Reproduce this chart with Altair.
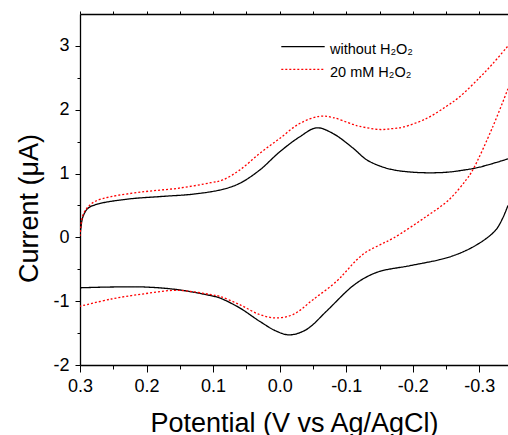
import altair as alt
import pandas as pd

FONT = "Liberation Sans"

series_names = ["without H₂O₂", "20 mM H₂O₂"]
series_colors = ["#000000", "#ff0000"]
series_dash = [[1, 0], [2, 2]]

# without H2O2 : anodic (upper) branch
black_fwd_x = [0.300, 0.299, 0.2955, 0.288, 0.273, 0.228, 0.1785, 0.1275, 0.0855, 0.06, 0.03, 0.0,
               -0.03, -0.0555, -0.08, -0.11, -0.13, -0.15, -0.17, -0.19, -0.22, -0.25, -0.27, -0.30, -0.343]
black_fwd_y = [0.02, 0.12, 0.325, 0.456, 0.523, 0.60, 0.64, 0.68, 0.753, 0.847, 1.055, 1.34,
               1.575, 1.716, 1.628, 1.40, 1.22, 1.12, 1.06, 1.03, 1.012, 1.02, 1.044, 1.10, 1.23]
# without H2O2 : cathodic (lower) branch
black_rev_x = [-0.343, -0.335, -0.325, -0.31, -0.285, -0.26, -0.24, -0.195, -0.15, -0.127, -0.11, -0.098,
               -0.07, -0.04, -0.015, 0.005, 0.03, 0.06, 0.09, 0.103, 0.153, 0.203, 0.253, 0.300]
black_rev_y = [0.50, 0.30, 0.12, -0.02, -0.18, -0.29, -0.35, -0.445, -0.534, -0.64, -0.76, -0.87,
               -1.16, -1.445, -1.528, -1.47, -1.316, -1.106, -0.95, -0.914, -0.82, -0.778, -0.778, -0.79]
# 20 mM H2O2 : upper branch
red_fwd_x = [0.300, 0.299, 0.2955, 0.288, 0.278, 0.2535, 0.203, 0.153, 0.1035, 0.0855, 0.06, 0.03, 0.0,
             -0.03, -0.06, -0.08, -0.11, -0.12, -0.151, -0.17, -0.186, -0.22, -0.25, -0.27, -0.30, -0.32, -0.343]
red_fwd_y = [0.02, 0.15, 0.35, 0.477, 0.56, 0.6375, 0.716, 0.769, 0.856, 0.90, 1.055, 1.316, 1.55,
             1.784, 1.898, 1.878, 1.77, 1.74, 1.69, 1.705, 1.73, 1.86, 2.05, 2.2, 2.5, 2.72, 3.0]
# 20 mM H2O2 : lower branch
red_rev_x = [-0.343, -0.32, -0.29, -0.28, -0.254, -0.22, -0.171, -0.15, -0.13, -0.115, -0.10, -0.086,
             -0.05, -0.02, 0.005, 0.03, 0.06, 0.09, 0.103, 0.153, 0.203, 0.253, 0.300]
red_rev_y = [2.33, 1.73, 1.055, 0.9, 0.586, 0.325, -0.01, -0.12, -0.23, -0.36, -0.53, -0.684,
             -0.977, -1.21, -1.2625, -1.21, -1.055, -0.925, -0.898, -0.83, -0.883, -0.966, -1.08]

x_major = [0.3, 0.2, 0.1, 0.0, -0.1, -0.2, -0.3]
x_major_labels = ["0.3", "0.2", "0.1", "0.0", "-0.1", "-0.2", "-0.3"]
x_minor = [0.25, 0.15, 0.05, -0.05, -0.15, -0.25]
y_major = [3, 2, 1, 0, -1, -2]
y_major_labels = ["3", "2", "1", "0", "-1", "-2"]
y_minor = [2.5, 1.5, 0.5, -0.5, -1.5]

x_domain = [-0.343, 0.3]
y_domain = [-2, 3.5]

rows = []
for name, branch, xs, ys in [
    (series_names[0], "a", black_fwd_x, black_fwd_y),
    (series_names[0], "b", black_rev_x, black_rev_y),
    (series_names[1], "a", red_fwd_x, red_fwd_y),
    (series_names[1], "b", red_rev_x, red_rev_y),
]:
    for i, (xv, yv) in enumerate(zip(xs, ys)):
        rows.append({"series": name, "seg": name + branch, "i": i, "E": xv, "I": yv})
df = pd.DataFrame(rows)


def label_expr(values, labels):
    expr = "''"
    for v, lab in reversed(list(zip(values, labels))):
        expr = f"abs(datum.value - ({v})) < 1e-6 ? '{lab}' : ({expr})"
    return expr


def major_test(values):
    return " || ".join(f"abs(datum.value - ({v})) < 1e-6" for v in values)


x_scale = alt.Scale(domain=x_domain, reverse=True, nice=False, zero=False)
y_scale = alt.Scale(domain=y_domain, nice=False, zero=False)

bottom_axis = alt.Axis(
    values=x_major + x_minor,
    labelExpr=label_expr(x_major, x_major_labels),
    tickSize={"condition": {"test": major_test(x_major), "value": 7}, "value": 4},
    tickColor="black", tickWidth=1, domainColor="black", domainWidth=1.3,
    labelFont=FONT, labelFontSize=18, labelColor="black", labelPadding=5,
    labelFlush=False, labelOverlap=False, grid=False,
    title="Potential (V vs Ag/AgCl)", titleFont=FONT, titleFontSize=27,
    titleFontWeight="normal", titleColor="black", titleBaseline="alphabetic", titleY=66,
)
top_axis = alt.Axis(
    orient="top", values=x_major + x_minor, labels=False, tickSize=3, tickColor="black",
    domainColor="black", domainWidth=1.3, grid=False, title=None,
)
left_axis = alt.Axis(
    values=y_major + y_minor,
    labelExpr=label_expr(y_major, y_major_labels),
    tickSize={"condition": {"test": major_test(y_major), "value": 5}, "value": 3},
    tickColor="black", tickWidth=1, domainColor="black", domainWidth=1.3,
    labelFont=FONT, labelFontSize=18, labelColor="black", labelPadding=6,
    labelFlush=False, labelOverlap=False, grid=False,
    title="Current (μA)", titleFont=FONT, titleFontSize=27, titleFontWeight="normal",
    titleColor="black", titleAngle=270, titleBaseline="alphabetic", titleAlign="center",
    titleX=-43, titleY=194,
)

lines = alt.Chart(df).mark_line(interpolate="catmull-rom", strokeWidth=1.3, clip=True).encode(
    x=alt.X("E:Q", scale=x_scale, axis=bottom_axis),
    y=alt.Y("I:Q", scale=y_scale, axis=left_axis),
    color=alt.Color("series:N", scale=alt.Scale(domain=series_names, range=series_colors),
                    legend=None),
    strokeDash=alt.StrokeDash("series:N", scale=alt.Scale(domain=series_names, range=series_dash),
                              legend=None),
    detail="seg:N",
    order="i:Q",
)

top = alt.Chart(df).mark_point(opacity=0).encode(
    x=alt.X("E:Q", scale=x_scale, axis=top_axis),
    y=alt.Y("I:Q", scale=y_scale, axis=None),
)

# hand-made legend (line sample + label per series)
legend_layers = []
row_y = [32.7, 55.3]
for k, name in enumerate(series_names):
    one = pd.DataFrame({"series": [name]})
    legend_layers.append(
        alt.Chart(one).mark_rule(strokeWidth=1.3, strokeDash=series_dash[k], color=series_colors[k]).encode(
            x=alt.value(201.3), x2=alt.value(244.7), y=alt.value(row_y[k])
        )
    )
    legend_layers.append(
        alt.Chart(one).mark_text(align="left", baseline="alphabetic", font=FONT, fontSize=14.5,
                                 color="black").encode(
            x=alt.value(250), y=alt.value(row_y[k] + 7.3), text="series:N"
        )
    )

chart = (
    alt.layer(lines, top, *legend_layers)
    .resolve_axis(x="independent", y="independent")
    .properties(width=428, height=351, autosize="none",
                padding={"left": 80, "top": 14, "right": 0, "bottom": 70},
                background="white")
    .configure_view(stroke=None)
)

chart.save("out.html", embed_options={"renderer": "svg", "actions": False})
